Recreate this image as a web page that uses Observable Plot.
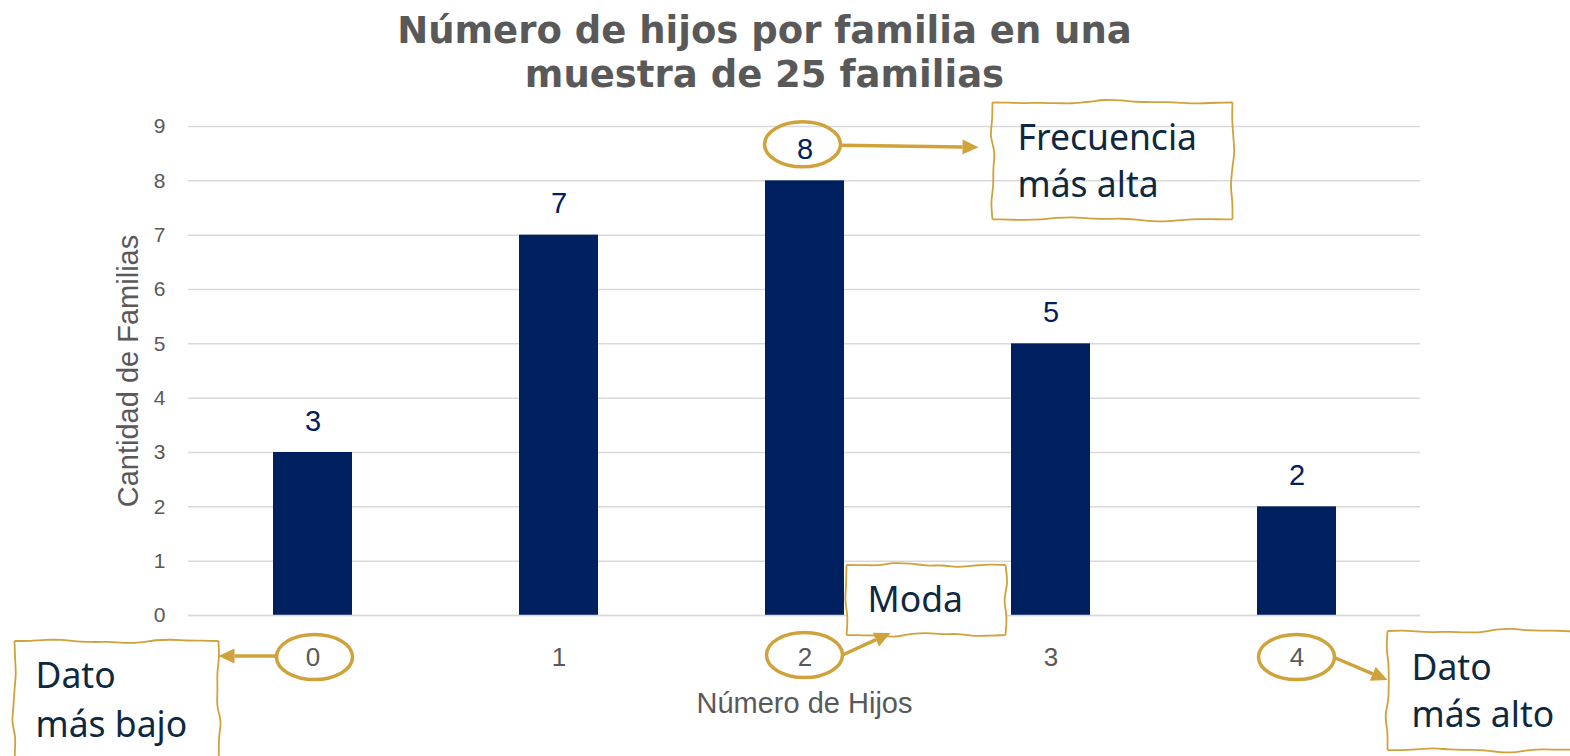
<!DOCTYPE html>
<html>
<head>
<meta charset="utf-8">
<script src="https://cdn.jsdelivr.net/npm/d3@7"></script>
<script src="https://cdn.jsdelivr.net/npm/@observablehq/plot@0.6"></script>
<style>
  html, body { margin: 0; padding: 0; background: #fff; }
  #chart svg { display: block; }
</style>
</head>
<body>
<div id="chart"></div>
<script>
// ---- data ----
const categories = ["0", "1", "2", "3", "4"];
const counts = [3, 7, 8, 5, 2];
const yTicks = [0, 1, 2, 3, 4, 5, 6, 7, 8, 9];
const titleLines = ["Número de hijos por familia en una", "muestra de 25 familias"];
const xLabel = "Número de Hijos";
const yLabel = "Cantidad de Familias";

const data = categories.map((c, i) => ({cat: c, n: counts[i]}));

const GOLD = "#CFA23B";
const NAVY_TEXT = "#0E2841";
const BAR = "#002060";
const GRAY = "#595959";

const chart = Plot.plot({
  width: 1570,
  height: 756,
  marginLeft: 188,
  marginRight: 150,
  marginTop: 126,
  marginBottom: 141,
  style: {fontFamily: "'Liberation Sans', Arial, sans-serif", background: "#fff", overflow: "visible"},
  x: {domain: categories, paddingInner: 0.68, paddingOuter: 0.34, label: null},
  y: {domain: [0, 9], label: null},
  marks: [
    Plot.gridY(yTicks, {stroke: "#D9D9D9", strokeOpacity: 1, strokeWidth: 1.5}),
    Plot.barY(data, {x: "cat", y: "n", fill: BAR}),
    Plot.ruleY([0], {stroke: "#D9D9D9", strokeWidth: 1.5}),
    Plot.text(data, {x: "cat", y: "n", text: d => String(d.n), dy: -31, fontSize: 29, fill: BAR, lineAnchor: "middle"}),
    Plot.axisY({ticks: yTicks, tickSize: 0, tickPadding: 23, fontSize: 21, fill: GRAY, label: null}),
    Plot.axisX({tickSize: 0, tickPadding: 32, fontSize: 26, fill: GRAY, label: null}),
    Plot.text([yLabel], {frameAnchor: "left", dx: -60, rotate: -90, fontSize: 29, fill: GRAY, lineAnchor: "middle", textAnchor: "middle"}),
    Plot.text([xLabel], {frameAnchor: "bottom", dy: 88, fontSize: 29, fill: GRAY, lineAnchor: "middle"}),
    Plot.text([titleLines.join("\n")], {frameAnchor: "top", dx: -40, dy: -76, fontSize: 37, fontWeight: "bold",
      fontFamily: "'DejaVu Sans', sans-serif", fill: GRAY, lineAnchor: "middle", lineHeight: 1.19})
  ]
});
document.getElementById("chart").appendChild(chart);

// ---- annotations (positioned from the chart's scales) ----
const xs = chart.scale("x"), ys = chart.scale("y");
const cx = c => xs.apply(c) + xs.bandwidth / 2;
const tickY = ys.apply(0) + 42;
const valY = v => ys.apply(v) - 31;

const callouts = [
  {ax: cx("2"), ay: valY(8), ell: [-2, -5], arrow: [[36, -4], [174, -2]], box: [188, -47, 428, 70], text: ["Frecuencia", "más alta"], tx: 213, ty: [1, 48]},
  {ax: cx("2"), ay: tickY, ell: [0, -2], arrow: [[38, -2], [86, -24]], box: [42, -92, 201, -22], text: ["Moda"], tx: 63, ty: [-45]},
  {ax: cx("0"), ay: tickY, ell: [2, 0], arrow: [[-36, -1], [-94, -1]], box: [-298, -16, -94, 113], text: ["Dato", "más bajo"], tx: -277, ty: [31, 80]},
  {ax: cx("4"), ay: tickY, ell: [0, 0], arrow: [[39, 1], [91, 23]], box: [91, -26, 293, 93], text: ["Dato", "más alto"], tx: 115, ty: [23, 70]}
];

const svg = d3.select(chart);
const g = svg.append("g").attr("class", "annotations").attr("text-anchor", "start");

function wavyRect(x0, y0, x1, y1, seed) {
  const segs = [];
  const edge = (ax, ay, bx, by, ph) => {
    const len = Math.hypot(bx - ax, by - ay);
    const n = Math.max(4, Math.round(len / 16));
    const nx = -(by - ay) / len, ny = (bx - ax) / len;
    const pts = [];
    for (let i = 0; i <= n; i++) {
      const t = i / n;
      const env = Math.sin(Math.PI * t);
      const off = env * (1.8 * Math.sin(t * 9 + ph) + 0.8 * Math.sin(t * 23 + ph * 2));
      pts.push([ax + (bx - ax) * t + nx * off, ay + (by - ay) * t + ny * off]);
    }
    segs.push(d3.line().curve(d3.curveCatmullRom)(pts));
  };
  edge(x0, y0, x1, y0, seed);
  edge(x1, y0, x1, y1, seed + 1.3);
  edge(x1, y1, x0, y1, seed + 2.1);
  edge(x0, y1, x0, y0, seed + 3.7);
  return segs.join("");
}

callouts.forEach((c, k) => {
  const ex = c.ax + c.ell[0], ey = c.ay + c.ell[1];
  const [b0, b1, b2, b3] = c.box;
  if (k === 1) {
    g.append("rect").attr("x", c.ax + b0).attr("y", c.ay + b1).attr("width", b2 - b0).attr("height", b3 - b1).attr("fill", "#fff");
  }
  g.append("path").attr("d", wavyRect(c.ax + b0, c.ay + b1, c.ax + b2, c.ay + b3, k * 1.7))
    .attr("fill", "none").attr("stroke", GOLD).attr("stroke-width", 1.8).attr("stroke-linejoin", "round");
  g.append("ellipse").attr("cx", ex).attr("cy", ey).attr("rx", 38).attr("ry", 22.5)
    .attr("fill", "none").attr("stroke", GOLD).attr("stroke-width", 3.5);
  const [p0, p1] = c.arrow;
  const x0 = c.ax + p0[0], y0 = c.ay + p0[1], x1 = c.ax + p1[0], y1 = c.ay + p1[1];
  const ang = Math.atan2(y1 - y0, x1 - x0);
  const L = 16, W = 7.5;
  const bx = x1 - L * Math.cos(ang), by = y1 - L * Math.sin(ang);
  g.append("line").attr("x1", x0).attr("y1", y0).attr("x2", bx).attr("y2", by)
    .attr("stroke", GOLD).attr("stroke-width", 3.5);
  g.append("path").attr("d", `M${x1},${y1}L${bx - W * Math.sin(ang)},${by + W * Math.cos(ang)}L${bx + W * Math.sin(ang)},${by - W * Math.cos(ang)}Z`)
    .attr("fill", GOLD);
  c.text.forEach((t, i) => {
    g.append("text").attr("x", c.ax + c.tx).attr("y", c.ay + c.ty[i])
      .attr("text-anchor", "start")
      .attr("font-family", "'Noto Sans', 'Open Sans', sans-serif").attr("font-size", 35.5)
      .attr("fill", NAVY_TEXT).text(t);
  });
});
</script>
</body>
</html>
